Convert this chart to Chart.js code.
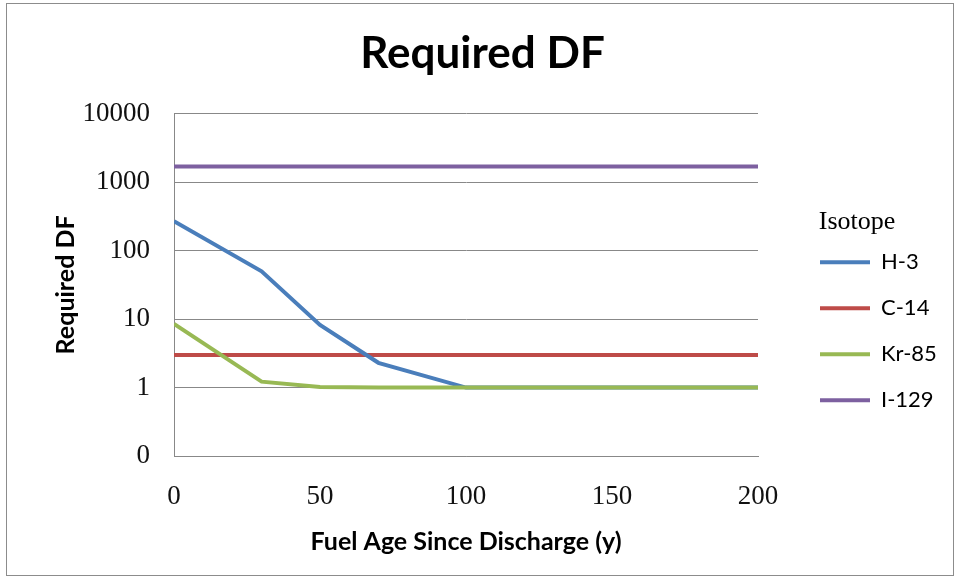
<!DOCTYPE html>
<html>
<head>
<meta charset="utf-8">
<script src="https://cdn.jsdelivr.net/npm/chart.js"></script>
<style>
  html, body { margin: 0; padding: 0; background: #fff; }
  #wrap { width: 955px; height: 579px; }
</style>
</head>
<body>
<div id="wrap"><canvas id="chart"></canvas></div>
<script>
// datos
const years = [0, 30, 50, 70, 100, 150, 200];
const h3 = [270, 50, 8.2, 2.3, 1, 1, 1];
const c14 = [3, 3, 3, 3, 3, 3, 3];
const kr85 = [8.5, 1.22, 1.02, 1, 1, 1, 1];
const i129 = [1700, 1700, 1700, 1700, 1700, 1700, 1700];

const seriesNames = ['H-3', 'C-14', 'Kr-85', 'I-129'];
const seriesColors = ['#4A7EBB', '#BE4B48', '#98B954', '#7D60A0'];

const yTicks = [0.1, 1, 10, 100, 1000, 10000];
const yTickLabels = ['0', '1', '10', '100', '1000', '10000'];
const xTicks = [0, 50, 100, 150, 200];

function toPoints(values) {
    return years.map((x, i) => ({ x: x, y: values[i] }));
}

const allSeries = [h3, c14, kr85, i129];

// borde exterior gris
const frame = {
    id: 'frame',
    beforeDraw(chart) {
        const c = chart.ctx;
        c.save();
        c.fillStyle = '#fff';
        c.fillRect(0, 0, chart.width, chart.height);
        c.strokeStyle = '#8c8c8c';
        c.lineWidth = 1;
        c.strokeRect(6.5, 3.5, chart.width - 8, chart.height - 7);
        c.restore();
    }
};

// leyenda a la derecha, en posicion fija
const legendPlace = {
    id: 'legendPlace',
    afterInit(chart) {
        const lg = chart.legend;
        const fit = lg.fit;
        lg.fit = function () {
            fit.call(this);
            this.width = 197;
        };
    },
    afterLayout(chart) {
        const lg = chart.legend;
        lg.left = 796;
        lg.width = 122;          // centra el titulo "Isotope"
        lg.right = chart.width;  // no recortar los textos
        lg.top = 209;
        lg.height = 250;
        lg.bottom = lg.top + lg.height;
    }
};

new Chart(document.getElementById('chart'), {
    type: 'line',
    data: {
        datasets: allSeries.map((vals, i) => ({
            label: seriesNames[i],
            data: toPoints(vals),
            borderColor: seriesColors[i],
            backgroundColor: seriesColors[i],
            borderWidth: 4,
            pointRadius: 0,
            tension: 0,
            order: i === 2 ? -1 : i
        }))
    },
    options: {
        responsive: true,
        maintainAspectRatio: false,
        animation: false,
        layout: { padding: { left: 10, right: 0, bottom: 12, top: 0 } },
        plugins: {
            title: {
                display: true,
                text: 'Required DF',
                color: '#000',
                font: { family: 'Lato', size: 44, weight: 'bold' },
                padding: { top: 27, bottom: 34 }
            },
            legend: {
                position: 'right',
                fullSize: false,
                align: 'start',
                labels: {
                    usePointStyle: true,
                    pointStyle: 'line',
                    pointStyleWidth: 50,
                    padding: 24,
                    color: '#000',
                    font: { family: 'Lato', size: 22 },
                    sort: (a, b) => a.datasetIndex - b.datasetIndex
                },
                title: {
                    display: true,
                    text: 'Isotope',
                    color: '#000',
                    font: { family: 'Liberation Serif', size: 26 },
                    padding: { top: 0, bottom: -13 }
                }
            },
            tooltip: { enabled: false }
        },
        scales: {
            x: {
                type: 'linear',
                min: 0,
                max: 200,
                afterBuildTicks: s => { s.ticks = xTicks.map(v => ({ value: v })); },
                afterFit: s => { s.height = 111; },
                grid: { display: false, drawTicks: false },
                border: { display: true, color: '#888', width: 1 },
                ticks: {
                    padding: 25,
                    color: '#111',
                    maxRotation: 0,
                    font: { family: 'Liberation Serif', size: 27 }
                },
                title: {
                    display: true,
                    text: 'Fuel Age Since Discharge (y)',
                    color: '#000',
                    font: { family: 'Lato', size: 25, weight: 'bold' },
                    padding: { top: 0, bottom: 10 }
                }
            },
            y: {
                type: 'logarithmic',
                min: 0.1,
                max: 10000,
                afterBuildTicks: s => { s.ticks = yTicks.map(v => ({ value: v })); },
                afterFit: s => { s.width = 164; },
                grid: { color: '#888', lineWidth: 1, drawTicks: false },
                border: { display: true, color: '#888', width: 1 },
                ticks: {
                    padding: 24,
                    color: '#111',
                    font: { family: 'Liberation Serif', size: 27 },
                    callback: function (value) {
                        const k = yTicks.indexOf(value);
                        return k >= 0 ? yTickLabels[k] : '';
                    }
                },
                title: {
                    display: true,
                    text: 'Required DF',
                    color: '#000',
                    font: { family: 'Lato', size: 25, weight: 'bold' },
                    padding: { top: 41, bottom: 0 }
                }
            }
        }
    },
    plugins: [frame, legendPlace]
});
</script>
</body>
</html>
